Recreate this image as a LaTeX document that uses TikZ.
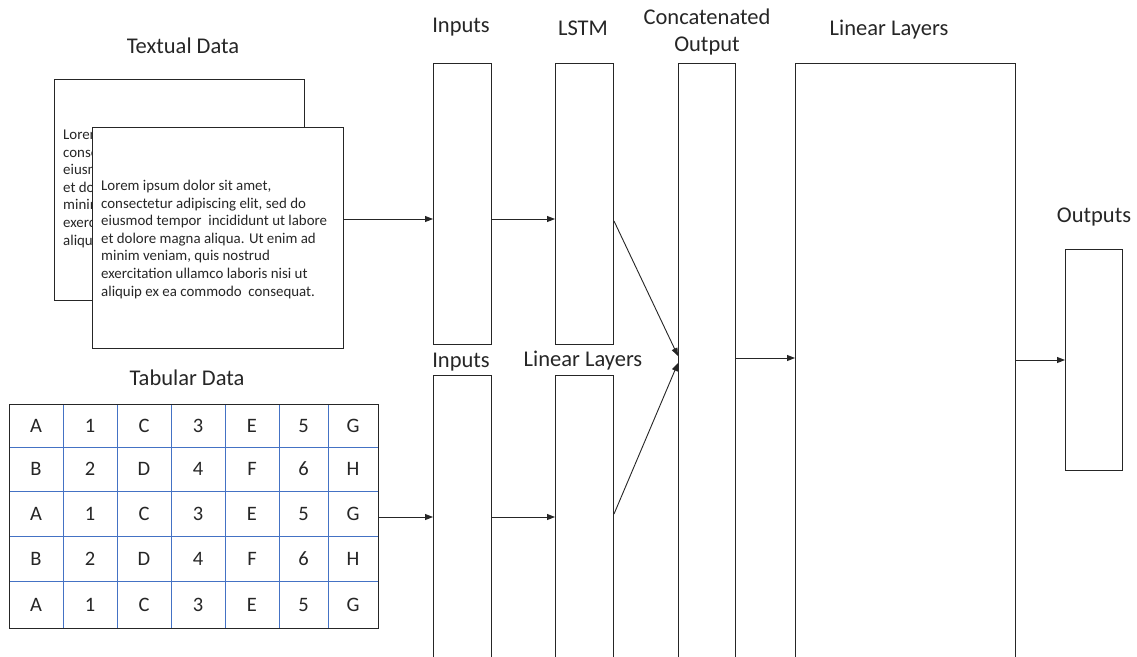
\documentclass[tikz,border=0pt]{standalone}
\usepackage{fontspec}
\setmainfont{Carlito}
\usetikzlibrary{arrows.meta}
\definecolor{ink}{HTML}{262626}
\definecolor{gridblue}{HTML}{4472C4}
\tikzset{
  layer/.style={draw=ink, line width=1pt, fill=white, inner sep=0pt, anchor=north west},
  lbl/.style={text=ink, font=\fontsize{22.5}{26}\selectfont, inner sep=0pt, anchor=base},
  cell/.style={text=ink, font=\fontsize{20.5}{24}\selectfont, inner sep=0pt},
  para/.style={text=ink, font=\fontsize{14.9}{17.6}\selectfont, inner sep=0pt, align=left, anchor=north west},
  flow/.style={draw=ink, line width=0.9pt, -{Triangle[length=8pt,width=6pt]}},
}
\newcommand{\loremtext}{Lorem ipsum dolor sit amet,\\
consectetur adipiscing elit, sed do\\
eiusmod tempor\ \ incididunt ut labore\\
et dolore magna aliqua. Ut enim ad\\
minim veniam, quis nostrud\\
exercitation ullamco laboris nisi ut\\
aliquip ex ea commodo\ \ consequat.}
\begin{document}
\begin{tikzpicture}[x=1pt, y=-1pt]
\useasboundingbox (0,0) rectangle (1137,656);
\clip (0,0) rectangle (1137,656);
\fill[white] (0,0) rectangle (1137,656);

% --- textual data: two stacked documents ---
\node[layer, minimum width=250pt, minimum height=221pt] (doc2) at (54,79) {};
\begin{scope}
  \clip (55,80) rectangle (92,299);
  \node[para] (doc2txt) at (63,129) {\loremtext};
\end{scope}
\node[layer, minimum width=251pt, minimum height=221pt] (doc1) at (92,127) {};
\node[para] (doc1txt) at (101,180) {\loremtext};
\node[lbl] (ltext) at (183,53) {Textual Data};

% --- tabular data ---
\foreach \x in {63,117,171,225,279,328}
  \draw[gridblue, line width=0.8pt] (\x,404) -- (\x,628);
\foreach \y in {447,491,536,581}
  \draw[gridblue, line width=0.8pt] (9,\y) -- (378,\y);
\node[draw=ink, line width=1pt, inner sep=0pt, minimum width=369pt, minimum height=224pt, anchor=north west] (tab) at (9,404) {};
\foreach \r/\yc in {1/425.5, 3/513.5, 5/604.5} {
  \foreach \c/\xc/\t in {1/36/A, 2/90/1, 3/144/C, 4/198/3, 5/252/E, 6/303.5/5, 7/353/G}
    \node[cell] (c\r\c) at (\xc,\yc) {\t};
}
\foreach \r/\yc in {2/469, 4/558.5} {
  \foreach \c/\xc/\t in {1/36/B, 2/90/2, 3/144/D, 4/198/4, 5/252/F, 6/303.5/6, 7/353/H}
    \node[cell] (c\r\c) at (\xc,\yc) {\t};
}
\node[lbl] (ltab) at (187,385) {Tabular Data};

% --- network layers ---
\node[layer, minimum width=58pt, minimum height=281pt] (inA) at (433,63) {};
\node[layer, minimum width=58pt, minimum height=281pt] (lstm) at (555,63) {};
\node[layer, minimum width=58pt, minimum height=320pt] (inB) at (433,375) {};
\node[layer, minimum width=58pt, minimum height=320pt] (linB) at (555,375) {};
\node[layer, minimum width=57pt, minimum height=640pt] (cat) at (678,63) {};
\node[layer, minimum width=220pt, minimum height=640pt] (lin) at (795,63) {};
\node[layer, minimum width=57pt, minimum height=221pt] (out) at (1065,249) {};

\node[lbl] (linAlbl) at (461,32) {Inputs};
\node[lbl] (lstmlbl) at (583,35) {LSTM};
\node[lbl] (catlbl1) at (707,24) {Concatenated};
\node[lbl] (catlbl2) at (707,51) {Output};
\node[lbl] (linlbl) at (889,35) {Linear Layers};
\node[lbl] (outlbl) at (1094,222) {Outputs};
\node[lbl] (inBlbl) at (461,367) {Inputs};
\node[lbl] (linBlbl) at (583,366) {Linear Layers};

% --- connectors ---
\coordinate (rowA) at (0,219);
\coordinate (rowB) at (0,517);
\coordinate (rowC) at (0,358);
\coordinate (rowD) at (0,360);
\coordinate (srcA) at (0,221);
\coordinate (srcB) at (0,514);
\coordinate (dstA) at (0,356);
\coordinate (dstB) at (0,363);
\draw[flow] (doc1.east |- rowA) -- (inA.west |- rowA);
\draw[flow] (inA.east |- rowA) -- (lstm.west |- rowA);
\draw[flow] (tab.east |- rowB) -- (inB.west |- rowB);
\draw[flow] (inB.east |- rowB) -- (linB.west |- rowB);
\draw[flow] (lstm.east |- srcA) -- (cat.west |- dstA);
\draw[flow] (linB.east |- srcB) -- (cat.west |- dstB);
\draw[flow] (cat.east |- rowC) -- (lin.west |- rowC);
\draw[flow] (lin.east |- rowD) -- (out.west |- rowD);
\end{tikzpicture}
\end{document}
